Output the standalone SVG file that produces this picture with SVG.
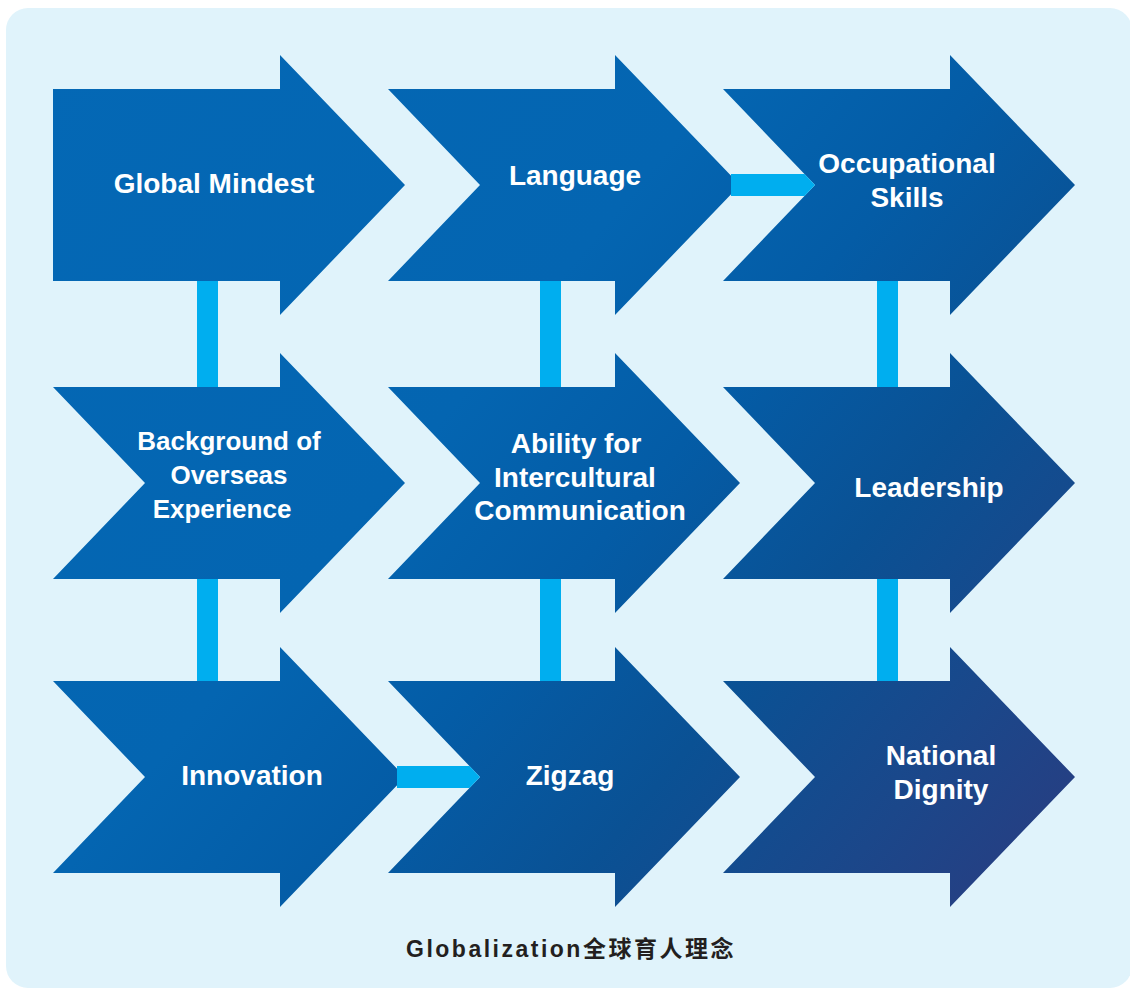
<svg xmlns="http://www.w3.org/2000/svg" width="1130" height="990" viewBox="0 0 1130 990">
  <defs>
    <linearGradient id="arrowGrad" gradientUnits="userSpaceOnUse" x1="53" y1="55" x2="1075" y2="907">
      <stop offset="0" stop-color="#0468b5"/>
      <stop offset="0.4" stop-color="#0465b1"/>
      <stop offset="0.55" stop-color="#045ca6"/>
      <stop offset="0.7" stop-color="#0a5194"/>
      <stop offset="0.85" stop-color="#1b478a"/>
      <stop offset="1" stop-color="#2b3b7f"/>
    </linearGradient>
    <style>
      .arrow { fill: url(#arrowGrad); }
      .bar { fill: #00aeef; }
      .label { font-family: "Liberation Sans", Arial, sans-serif; font-weight: bold; fill: #ffffff; text-anchor: middle; font-size: 28px; }
      .small { font-size: 26px; }
      .title { font-family: "Liberation Sans", Arial, "Noto Sans CJK SC", sans-serif; font-weight: bold; fill: #231f20; font-size: 23px; letter-spacing: 2.5px; }
    </style>
  </defs>
  <rect x="0" y="0" width="1130" height="990" fill="#ffffff"/>
  <rect x="6" y="8" width="1126" height="980" rx="22" ry="22" fill="#e0f3fb"/>

  <g id="connectors-vertical">
    <rect class="bar" x="197" y="270" width="21" height="130"/>
    <rect class="bar" x="197" y="570" width="21" height="125"/>
    <rect class="bar" x="540" y="270" width="21" height="130"/>
    <rect class="bar" x="540" y="570" width="21" height="125"/>
    <rect class="bar" x="877" y="270" width="21" height="130"/>
    <rect class="bar" x="877" y="570" width="21" height="125"/>
  </g>

  <g id="node-global-mindset">
    <polygon class="arrow" points="53,89 280,89 280,55 405,185 280,315 280,281 53,281"/>
    <text class="label" x="214" y="193">Global Mindest</text>
  </g>
  <g id="node-language">
    <polygon class="arrow" points="388,89 615,89 615,55 740,185 615,315 615,281 388,281 480,185"/>
    <text class="label" x="575" y="185">Language</text>
  </g>
  <g id="node-occupational-skills">
    <polygon class="arrow" points="723,89 950,89 950,55 1075,185 950,315 950,281 723,281 815,185"/>
    <text class="label" x="907" y="173">Occupational</text>
    <text class="label" x="907" y="207">Skills</text>
  </g>

  <g id="node-overseas-experience">
    <polygon class="arrow" points="53,387 280,387 280,353 405,483 280,613 280,579 53,579 145,483"/>
    <text class="label small" x="229" y="450">Background of</text>
    <text class="label small" x="229" y="484">Overseas</text>
    <text class="label small" x="222" y="518">Experience</text>
  </g>
  <g id="node-intercultural">
    <polygon class="arrow" points="388,387 615,387 615,353 740,483 615,613 615,579 388,579 480,483"/>
    <text class="label" x="576" y="453">Ability for</text>
    <text class="label" x="575" y="487">Intercultural</text>
    <text class="label" x="580" y="520">Communication</text>
  </g>
  <g id="node-leadership">
    <polygon class="arrow" points="723,387 950,387 950,353 1075,483 950,613 950,579 723,579 815,483"/>
    <text class="label" x="929" y="497">Leadership</text>
  </g>

  <g id="node-innovation">
    <polygon class="arrow" points="53,681 280,681 280,647 405,777 280,907 280,873 53,873 145,777"/>
    <text class="label" x="252" y="785">Innovation</text>
  </g>
  <g id="node-zigzag">
    <polygon class="arrow" points="388,681 615,681 615,647 740,777 615,907 615,873 388,873 480,777"/>
    <text class="label" x="570" y="785">Zigzag</text>
  </g>
  <g id="node-national-dignity">
    <polygon class="arrow" points="723,681 950,681 950,647 1075,777 950,907 950,873 723,873 815,777"/>
    <text class="label" x="941" y="765">National</text>
    <text class="label" x="941" y="799">Dignity</text>
  </g>

  <g id="connectors-horizontal">
    <polygon class="bar" points="731,174 804.5,174 815,185 804.5,196 731,196"/>
    <polygon class="bar" points="397,766 469.5,766 480,777 469.5,788 397,788"/>
  </g>

  <g id="title">
    <text class="title" x="406" y="957">Globalization全球育人理念</text>
  </g>
</svg>
